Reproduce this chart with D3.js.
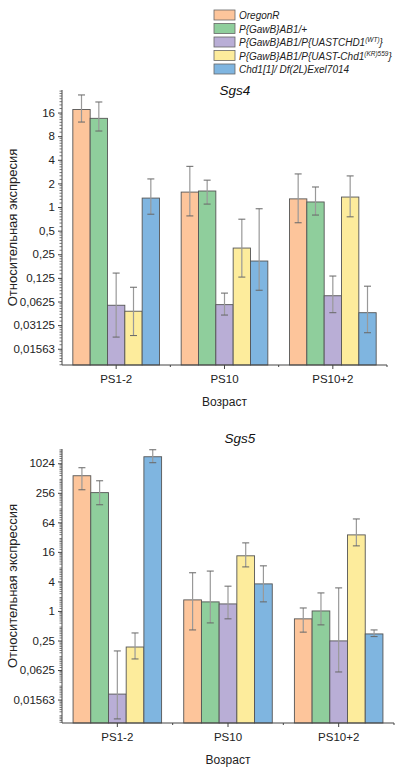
<!DOCTYPE html>
<html>
<head>
<meta charset="utf-8">
<script src="https://cdn.jsdelivr.net/npm/d3@7"></script>
<style>
  body { margin: 0; background: #fff; }
  svg { display: block; font-family: "Liberation Sans", Arial, sans-serif; }
</style>
</head>
<body>
<div id="chart"></div>
<script>
const groups = ['PS1-2', 'PS10', 'PS10+2'];
const seriesNames = [
  'OregonR',
  'P{GawB}AB1/+',
  'P{GawB}AB1/P{UASTCHD1^WT}',
  'P{GawB}AB1/P{UAST-Chd1^KR559}',
  'Chd1[1]/ Df(2L)Exel7014'
];
const colors = ['#FDC59B', '#8FCE9C', '#B9AED6', '#FDEC9C', '#7FB5E0'];

// Sgs4: value per series, per group [PS1-2, PS10, PS10+2]
const sgs4Values = [
  [17.5, 1.55, 1.27],
  [13.5, 1.6, 1.16],
  [0.056, 0.057, 0.074],
  [0.047, 0.30, 1.34],
  [1.3, 0.205, 0.045]
];
const sgs4Hi = [
  [26.8, 3.3, 2.64],
  [21.8, 2.2, 1.8],
  [0.144, 0.080, 0.132],
  [0.095, 0.70, 2.49],
  [2.28, 0.95, 0.098]
];
const sgs4Lo = [
  [12.1, 0.77, 0.63],
  [9.3, 1.09, 0.79],
  [0.022, 0.042, 0.045],
  [0.023, 0.128, 0.75],
  [0.81, 0.087, 0.025]
];
const sgs4Ticks = [16, 8, 4, 2, 1, 0.5, 0.25, 0.125, 0.0625, 0.03125, 0.015625];
const sgs4TickLabels = ['16', '8', '4', '2', '1', '0,5', '0,25', '0,125', '0,0625', '0,03125', '0,01563'];

// Sgs5
const sgs5Values = [
  [570, 1.68, 0.69],
  [258, 1.53, 1.0],
  [0.0202, 1.39, 0.245],
  [0.184, 13.3, 35.5],
  [1390, 3.56, 0.34]
];
const sgs5Hi = [
  [830, 6.0, 1.15],
  [450, 6.5, 2.33],
  [0.153, 3.2, 2.95],
  [0.356, 24.4, 75],
  [1930, 8.3, 0.41]
];
const sgs5Lo = [
  [295, 0.41, 0.37],
  [146, 0.57, 0.52],
  [0.0063, 0.69, 0.057],
  [0.105, 7.9, 21.2],
  [1050, 1.53, 0.30]
];
const sgs5Ticks = [1024, 256, 64, 16, 4, 1, 0.25, 0.0625, 0.015625];
const sgs5TickLabels = ['1024', '256', '64', '16', '4', '1', '0,25', '0,0625', '0,01563'];

const W = 399, H = 768;
const svg = d3.select('#chart').append('svg').attr('width', W).attr('height', H);

// legend
const leg = svg.append('g').attr('transform', 'translate(214,10)');
const legendLabels = [
  ['OregonR'],
  ['P{GawB}AB1/+'],
  ['P{GawB}AB1/P{UASTCHD1', '(WT)', '}'],
  ['P{GawB}AB1/P{UAST-Chd1', '(KR)559', '}'],
  ['Chd1[1]/ Df(2L)Exel7014']
];
legendLabels.forEach((parts, i) => {
  const g = leg.append('g').attr('transform', `translate(0,${i * 13.5})`);
  g.append('rect').attr('width', 21).attr('height', 10)
    .attr('fill', colors[i]).attr('stroke', '#666').attr('stroke-width', 0.8);
  const t = g.append('text').attr('x', 25).attr('y', 9)
    .style('font-size', '10px').style('font-style', 'italic').attr('fill', '#222');
  t.append('tspan').text(parts[0]);
  if (parts.length > 1) {
    t.append('tspan').attr('dy', -4).style('font-size', '6.5px').text(parts[1]);
    t.append('tspan').attr('dy', 4).text(parts[2]);
  }
});

function drawPanel(opt) {
  const { left, right, top, bottom, domain, values, hi, lo, ticks, tickLabels, title, titleX, titleY, yLabel } = opt;
  const g = svg.append('g');
  const y = d3.scaleLog().base(2).domain(domain).range([bottom, top]);
  const x0 = d3.scaleBand().domain(groups).range([left, right]);
  const inner = x0.bandwidth() * 0.8;
  const x1 = d3.scaleBand().domain(d3.range(seriesNames.length)).range([0, inner]);

  // bars
  seriesNames.forEach((s, si) => {
    groups.forEach((grp, gi) => {
      const bx = x0(grp) + (x0.bandwidth() - inner) / 2 + x1(si);
      const v = values[si][gi];
      g.append('rect').attr('x', bx).attr('y', y(v))
        .attr('width', x1.bandwidth()).attr('height', bottom - y(v))
        .attr('fill', colors[si]).attr('stroke', '#555').attr('stroke-width', 0.9);
    });
  });
  // error bars
  seriesNames.forEach((s, si) => {
    groups.forEach((grp, gi) => {
      const cx = x0(grp) + (x0.bandwidth() - inner) / 2 + x1(si) + x1.bandwidth() / 2;
      const y1 = y(hi[si][gi]), y2 = y(lo[si][gi]);
      g.append('line').attr('x1', cx).attr('x2', cx).attr('y1', y1).attr('y2', y2)
        .attr('stroke', '#999').attr('stroke-width', 1.2);
      [y1, y2].forEach(yy => g.append('line').attr('x1', cx - 3.5).attr('x2', cx + 3.5)
        .attr('y1', yy).attr('y2', yy).attr('stroke', '#666').attr('stroke-width', 1));
    });
  });

  // y axis
  const yAxis = g.append('g').attr('transform', `translate(${left},0)`)
    .call(d3.axisLeft(y).tickValues(ticks).tickSize(4).tickPadding(3)
      .tickFormat((d, i) => tickLabels[i]));
  yAxis.select('.domain').attr('stroke', '#444').attr('d', `M0,${top}V${bottom}`);
  yAxis.selectAll('.tick line').attr('stroke', '#444');
  yAxis.selectAll('text').style('font-size', '11.5px').attr('fill', '#222');

  // minor ticks
  const minor = [];
  const e0 = Math.floor(Math.log2(domain[0])), e1 = Math.ceil(Math.log2(domain[1]));
  for (let e = e0; e <= e1; e++) {
    for (let k = 1; k < 8; k++) {
      const v = Math.pow(2, e) * (1 + k / 8);
      if (v > domain[0] && v < domain[1]) minor.push(v);
    }
  }
  g.selectAll(null).data(minor).join('line')
    .attr('x1', left - 2.5).attr('x2', left).attr('y1', d => y(d)).attr('y2', d => y(d))
    .attr('stroke', '#555').attr('stroke-width', 0.8);

  // x axis
  const xAxis = g.append('g').attr('transform', `translate(0,${bottom})`)
    .call(d3.axisBottom(x0).tickSize(4).tickPadding(6));
  xAxis.select('.domain').attr('stroke', '#444').attr('d', `M${left},0H${right}`);
  xAxis.selectAll('.tick line').attr('stroke', '#444');
  xAxis.selectAll('text').style('font-size', '11.5px').attr('fill', '#222');
  g.selectAll(null).data(groups.slice(1).map(d => x0(d)).concat([right])).join('line')
    .attr('x1', d => d).attr('x2', d => d).attr('y1', bottom).attr('y2', bottom + 2)
    .attr('stroke', '#444');

  g.append('text').attr('x', (left + right) / 2).attr('y', bottom + 41)
    .attr('text-anchor', 'middle').style('font-size', '12px').attr('fill', '#222').text('Возраст');

  g.append('text').attr('transform', `translate(17,${(top + bottom) / 2}) rotate(-90)`)
    .attr('text-anchor', 'middle').style('font-size', '13px').attr('fill', '#222').text(yLabel);

  g.append('text').attr('x', titleX).attr('y', titleY).attr('text-anchor', 'middle')
    .style('font-size', '13.5px').style('font-style', 'italic')
    .attr('fill', '#111').text(title);
}

drawPanel({
  left: 62, right: 387, top: 90, bottom: 365,
  domain: [0.0097, 31], values: sgs4Values, hi: sgs4Hi, lo: sgs4Lo,
  ticks: sgs4Ticks, tickLabels: sgs4TickLabels,
  title: 'Sgs4', titleX: 235, titleY: 95, yLabel: 'Относительная экспресия'
});
drawPanel({
  left: 62, right: 394, top: 449, bottom: 723,
  domain: [0.0052, 2000], values: sgs5Values, hi: sgs5Hi, lo: sgs5Lo,
  ticks: sgs5Ticks, tickLabels: sgs5TickLabels,
  title: 'Sgs5', titleX: 240, titleY: 443, yLabel: 'Относительная экспрессия'
});
</script>
</body>
</html>
